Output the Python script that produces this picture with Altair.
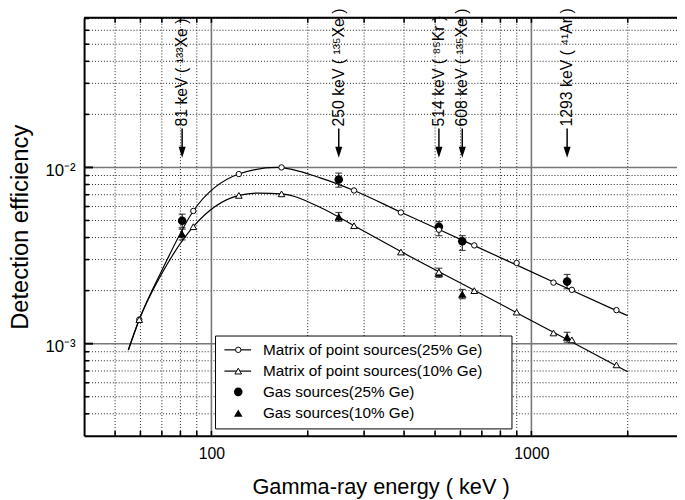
import altair as alt
import pandas as pd

FONT = "Liberation Sans"

# ---------------- data ----------------
# Matrix of point sources – measured points
matrix_energy = [59.5, 87.8, 121.8, 165.6, 279, 391, 514, 663, 899, 1172, 1338, 1844]
matrix25_eff = [1.37e-3, 5.66e-3, 9.17e-3, 1.0e-2, 7.4e-3, 5.55e-3, 4.43e-3, 3.61e-3, 2.87e-3, 2.22e-3, 2.02e-3, 1.55e-3]
matrix10_eff = [1.37e-3, 4.61e-3, 6.94e-3, 7.08e-3, 4.67e-3, 3.31e-3, 2.55e-3, 2.0e-3, 1.51e-3, 1.15e-3, 1.05e-3, 7.58e-4]

# Fitted curves
fit25_energy = [55, 59.5, 70, 87.8, 121.8, 160, 220, 279, 391, 663, 1172, 2000]
fit25_eff = [9.2e-4, 1.37e-3, 2.6e-3, 5.66e-3, 9.17e-3, 1.0e-2, 8.7e-3, 7.4e-3, 5.57e-3, 3.6e-3, 2.24e-3, 1.44e-3]
fit10_energy = [55, 59.5, 70, 87.8, 122, 140, 165.6, 220, 279, 391, 663, 1172, 2000]
fit10_eff = [9.2e-4, 1.37e-3, 2.5e-3, 4.61e-3, 6.94e-3, 7.15e-3, 7.08e-3, 5.9e-3, 4.67e-3, 3.33e-3, 2.01e-3, 1.16e-3, 6.93e-4]

# Gas sources with error bars
gas_energy = [81, 250, 514, 608, 1293]
gas25_eff = [4.98e-3, 8.53e-3, 4.61e-3, 3.81e-3, 2.25e-3]
gas25_hi = [5.43e-3, 9.29e-3, 4.93e-3, 4.10e-3, 2.47e-3]
gas25_lo = [4.55e-3, 7.72e-3, 4.10e-3, 3.38e-3, 2.05e-3]
gas10_eff = [4.19e-3, 5.25e-3, 2.52e-3, 1.91e-3, 1.09e-3]
gas10_hi = [4.46e-3, 5.55e-3, 2.68e-3, 2.03e-3, 1.16e-3]
gas10_lo = [3.88e-3, 4.95e-3, 2.38e-3, 1.80e-3, 1.02e-3]

# Annotations
ann_energy = [81, 250, 514, 608, 1293]
ann_text = ["81 keV ( ¹³³Xe )", "250 keV ( ¹³⁵Xe )", "514 keV ( ⁸⁵Kr )",
            "608 keV ( ¹³⁵Xe )", "1293 keV ( ⁴¹Ar )"]

# Grid / tick positions
x_major = [100, 1000]
x_minor = [50, 60, 70, 80, 90, 200, 300, 400, 500, 600, 700, 800, 900, 2000]
y_major = [1e-3, 1e-2]
y_minor = [4e-4, 5e-4, 6e-4, 7e-4, 8e-4, 9e-4,
           2e-3, 3e-3, 4e-3, 5e-3, 6e-3, 7e-3, 8e-3, 9e-3,
           2e-2, 3e-2, 4e-2, 5e-2, 6e-2, 7e-2]

legend_labels = ["Matrix of point sources(25% Ge)", "Matrix of point sources(10% Ge)",
                 "Gas sources(25% Ge)", "Gas sources(10% Ge)"]

# ---------------- chart ----------------
W, H = 600, 423
xs = alt.Scale(type="log", domain=[40, 2851], nice=False)
ys = alt.Scale(type="log", domain=[3.0e-4, 0.0706], nice=False)

x_axis = alt.Axis(values=x_major, format="d", grid=False, ticks=False,
                  domainColor="black", domainWidth=2, labelFont=FONT,
                  labelFontSize=16, labelColor="black", labelPadding=10,
                  labelFlush=False, title="Gamma-ray energy ( keV )",
                  titleFont=FONT, titleFontSize=22, titleFontWeight="normal",
                  titleColor="black", titlePadding=15)
y_axis = alt.Axis(values=y_major,
                  labelExpr="datum.value < 0.005 ? '10⁻³' : '10⁻²'",
                  grid=False, ticks=False, domainColor="black", domainWidth=2,
                  labelFont=FONT, labelFontSize=17, labelColor="black",
                  labelPadding=9, labelOffset=3, title="Detection efficiency",
                  titleFont=FONT, titleFontSize=24, titleFontWeight="normal",
                  titleColor="black", titlePadding=13)


def X(field):
    return alt.X(field, type="quantitative", scale=xs, axis=x_axis)


def Y(field):
    return alt.Y(field, type="quantitative", scale=ys, axis=y_axis)


df_xmin = pd.DataFrame({"e": x_minor})
df_xmaj = pd.DataFrame({"e": x_major})
df_ymin = pd.DataFrame({"v": y_minor})
df_ymaj = pd.DataFrame({"v": y_major})
df_xall = pd.DataFrame({"e": x_minor + x_major})

grid_x_minor = alt.Chart(df_xmin).mark_rule(color="#222", strokeWidth=1, strokeDash=[1, 2]).encode(x=X("e"))
grid_y_minor = alt.Chart(df_ymin).mark_rule(color="#222", strokeWidth=1, strokeDash=[1, 2]).encode(y=Y("v"))
grid_x_major = alt.Chart(df_xmaj).mark_rule(color="#777", strokeWidth=1.6).encode(x=X("e"))
grid_y_major = alt.Chart(df_ymaj).mark_rule(color="#777", strokeWidth=1.6).encode(y=Y("v"))

tick_bottom = alt.Chart(df_xall).mark_rule(color="black", strokeWidth=1.6).encode(
    x=X("e"), y=alt.value(H), y2=alt.value(H - 5))
tick_top = alt.Chart(df_xall).mark_rule(color="black", strokeWidth=1.6).encode(
    x=X("e"), y=alt.value(0), y2=alt.value(5))
tick_left_min = alt.Chart(df_ymin).mark_rule(color="black", strokeWidth=1.6).encode(
    y=Y("v"), x=alt.value(0), x2=alt.value(5))
tick_left_maj = alt.Chart(df_ymaj).mark_rule(color="black", strokeWidth=2).encode(
    y=Y("v"), x=alt.value(0), x2=alt.value(9))
top_border = alt.Chart(pd.DataFrame({"a": [0]})).mark_rule(color="black", strokeWidth=2).encode(
    y=alt.value(0))

df_fit25 = pd.DataFrame({"e": fit25_energy, "v": fit25_eff})
df_fit10 = pd.DataFrame({"e": fit10_energy, "v": fit10_eff})
fit25 = alt.Chart(df_fit25).mark_line(color="black", strokeWidth=1.2, interpolate="monotone").encode(
    x=X("e"), y=Y("v"))
fit10 = alt.Chart(df_fit10).mark_line(color="black", strokeWidth=1.2, interpolate="monotone").encode(
    x=X("e"), y=Y("v"))

df_m = pd.DataFrame({"e": matrix_energy, "v25": matrix25_eff, "v10": matrix10_eff})
open_c = alt.Chart(df_m).mark_point(shape="circle", size=30, fill="white", stroke="black",
                                    strokeWidth=1, fillOpacity=1, opacity=1).encode(x=X("e"), y=Y("v25"))
open_t = alt.Chart(df_m).mark_point(shape="triangle-up", size=45, fill="white", stroke="black",
                                    strokeWidth=1, fillOpacity=1, opacity=1).encode(x=X("e"), y=Y("v10"))

df_g = pd.DataFrame({"e": gas_energy, "v25": gas25_eff, "h25": gas25_hi, "l25": gas25_lo,
                     "v10": gas10_eff, "h10": gas10_hi, "l10": gas10_lo})
err_layers = []
for v, h, l in (("v25", "h25", "l25"), ("v10", "h10", "l10")):
    err_layers.append(alt.Chart(df_g).mark_rule(color="black", strokeWidth=1).encode(
        x=X("e"), y=Y(l), y2=alt.Y2(h)))
    err_layers.append(alt.Chart(df_g).mark_tick(orient="horizontal", size=7, thickness=1.2,
                                                color="black").encode(x=X("e"), y=Y(h)))
    err_layers.append(alt.Chart(df_g).mark_tick(orient="horizontal", size=7, thickness=1.2,
                                                color="black").encode(x=X("e"), y=Y(l)))
gas_c = alt.Chart(df_g).mark_point(shape="circle", size=75, filled=True, color="black",
                                   opacity=1).encode(x=X("e"), y=Y("v25"))
gas_t = alt.Chart(df_g).mark_point(shape="triangle-up", size=75, filled=True, color="black",
                                   opacity=1).encode(x=X("e"), y=Y("v10"))

# annotation arrows
df_a = pd.DataFrame({"e": ann_energy, "t": ann_text})
shaft = alt.Chart(df_a).mark_rule(color="black", strokeWidth=1.5).encode(
    x=X("e"), y=alt.value(112), y2=alt.value(133))
head = alt.Chart(df_a).mark_point(shape="M-0.65,-1L0.65,-1L0,1Z", size=121, filled=True,
                                  color="black", opacity=1).encode(x=X("e"), y=alt.value(136))
ann = alt.Chart(df_a).mark_text(angle=270, align="left", baseline="middle", font=FONT,
                                fontSize=16, color="black", dx=2).encode(
    x=X("e"), y=alt.value(112), text="t:N")

# legend (drawn by hand)
one = pd.DataFrame({"a": [0]})
leg = [alt.Chart(one).mark_rect(fill="white", stroke="black", strokeWidth=1).encode(
    x=alt.value(133), x2=alt.value(433), y=alt.value(322), y2=alt.value(416))]
row_y = [336, 357.5, 378.5, 400]
for i, lab in enumerate(legend_labels):
    yv = row_y[i]
    if i < 2:
        leg.append(alt.Chart(one).mark_rule(color="black", strokeWidth=1.2).encode(
            x=alt.value(142), x2=alt.value(169), y=alt.value(yv)))
        leg.append(alt.Chart(one).mark_point(
            shape="circle" if i == 0 else "triangle-up", size=30 if i == 0 else 45,
            fill="white", stroke="black", strokeWidth=1, fillOpacity=1, opacity=1).encode(
            x=alt.value(156), y=alt.value(yv)))
    else:
        leg.append(alt.Chart(one).mark_point(
            shape="circle" if i == 2 else "triangle-up", size=75, filled=True,
            color="black", opacity=1).encode(x=alt.value(156), y=alt.value(yv)))
    leg.append(alt.Chart(one).mark_text(align="left", baseline="middle", font=FONT,
                                        fontSize=15.5, color="black").encode(
        x=alt.value(181), y=alt.value(yv), text=alt.value(lab)))

chart = alt.layer(
    grid_x_minor, grid_y_minor, grid_x_major, grid_y_major,
    tick_bottom, tick_top, tick_left_min, tick_left_maj, top_border,
    fit25, fit10, *err_layers, gas_c, gas_t, open_c, open_t,
    shaft, head, ann, *leg
).properties(
    width=W, height=H, autosize="none",
    padding={"left": 77, "top": 7, "right": 0, "bottom": 62}
).configure_view(stroke=None)

chart.save("out.html", embed_options={"renderer": "svg", "actions": False})
